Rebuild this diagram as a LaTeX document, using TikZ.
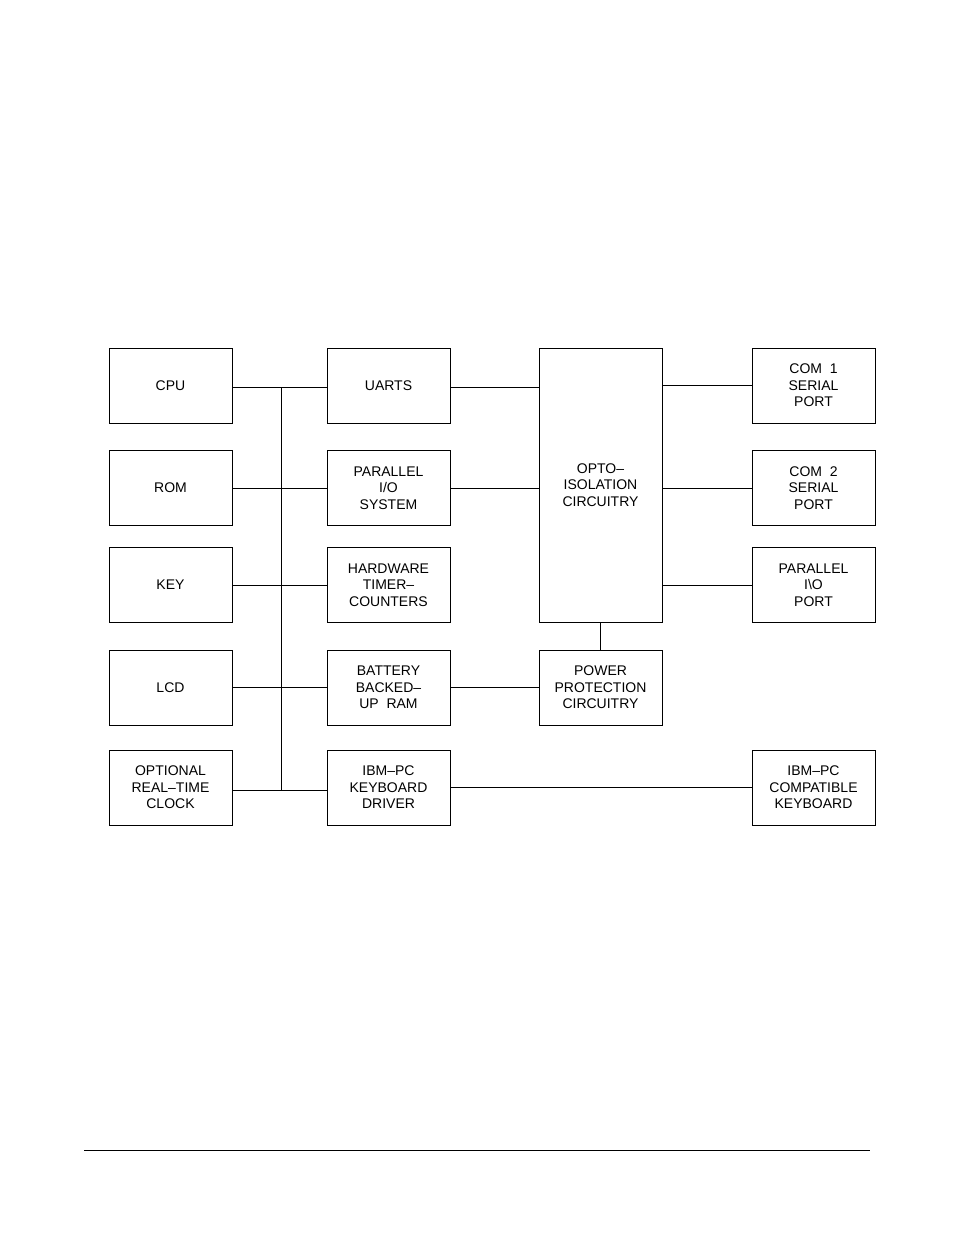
\documentclass[tikz,border=0pt]{standalone}
\usepackage{fontspec}
\setmainfont{Liberation Sans}
\begin{document}
\begin{tikzpicture}[x=1pt,y=1pt,
    blk/.style={draw,thick,minimum width=123pt,minimum height=75pt,align=center,
        font={\fontsize{14}{16.5}\selectfont},inner sep=0pt},
    wire/.style={thick}]

\useasboundingbox (0,0) rectangle (954,-1235);

% left column
\node[blk] (cpu) at (170.5,-385.5) {CPU};
\node[blk] (rom) at (170.5,-488) {ROM};
\node[blk] (key) at (170.5,-585) {KEY};
\node[blk] (lcd) at (170.5,-687.5) {LCD};
\node[blk] (rtc) at (170.5,-787.5) {OPTIONAL\\REAL--TIME\\CLOCK};

% second column
\node[blk] (uarts) at (388.5,-385.5) {UARTS};
\node[blk] (pio) at (388.5,-488) {PARALLEL\\I/O\\SYSTEM};
\node[blk] (timer) at (388.5,-585) {HARDWARE\\TIMER--\\COUNTERS};
\node[blk] (ram) at (388.5,-687.5) {BATTERY\\BACKED--\\UP\ \ RAM};
\node[blk] (kbdrv) at (388.5,-787.5) {IBM--PC\\KEYBOARD\\DRIVER};

% third column
\node[blk,minimum height=274pt] (opto) at (600.5,-485) {OPTO--\\ISOLATION\\CIRCUITRY};
\node[blk] (power) at (600.5,-687.5) {POWER\\PROTECTION\\CIRCUITRY};

% right column
\node[blk] (com1) at (813.5,-385.5) {COM\ \ 1\\SERIAL\\PORT};
\node[blk] (com2) at (813.5,-488) {COM\ \ 2\\SERIAL\\PORT};
\node[blk] (pport) at (813.5,-585) {PARALLEL\\I\textbackslash O\\PORT};
\node[blk] (kbd) at (813.5,-787.5) {IBM--PC\\COMPATIBLE\\KEYBOARD};

% bus
\coordinate (bustop) at (281,-387);
\coordinate (busbot) at (281,-790);
\draw[wire] (bustop) -- (busbot);
\draw[wire] (cpu.east |- bustop) -- (uarts.west |- bustop);
\draw[wire] (rom.east) -- (pio.west);
\draw[wire] (key.east) -- (timer.west);
\draw[wire] (lcd.east) -- (ram.west);
\draw[wire] (rtc.east |- busbot) -- (kbdrv.west |- busbot);

% to the isolation side
\draw[wire] (uarts.east |- bustop) -- (opto.west |- bustop);
\draw[wire] (pio.east) -- (pio.east -| opto.west);
\draw[wire] (ram.east) -- (power.west);
\draw[wire] (opto.south) -- (power.north);
\draw[wire] (com1.west) -- (com1.west -| opto.east);
\draw[wire] (com2.west) -- (com2.west -| opto.east);
\draw[wire] (pport.west) -- (pport.west -| opto.east);
\draw[wire] (kbdrv.east) -- (kbd.west);

% page rule
\coordinate (rulel) at (84,-1150);
\coordinate (ruler) at (870,-1150);
\draw[thick] (rulel) -- (ruler);

\end{tikzpicture}
\end{document}
